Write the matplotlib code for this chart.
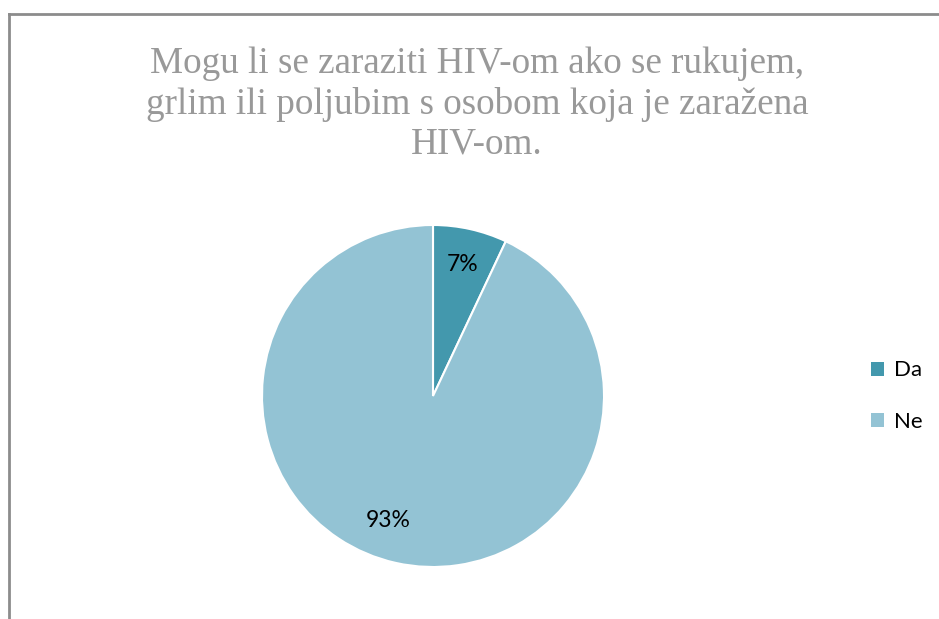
import matplotlib
matplotlib.use("Agg")
import matplotlib.pyplot as plt
from matplotlib.lines import Line2D
from matplotlib.patches import Patch

categories = ["Da", "Ne"]
values = [7, 93]
colors = ["#4398AD", "#93C3D4"]
title = "Mogu li se zaraziti HIV-om ako se rukujem,\ngrlim ili poljubim s osobom koja je zaražena\nHIV-om."

W, H = 939, 619
fig = plt.figure(figsize=(W / 100, H / 100), dpi=100)

# partial border (top and left)
fig.add_artist(Line2D([9 / W, 9 / W], [0, 1 - 14 / H], color="#8c8c8c", lw=2, transform=fig.transFigure))
fig.add_artist(Line2D([9 / W, 1], [1 - 14 / H, 1 - 14 / H], color="#8c8c8c", lw=2, transform=fig.transFigure))

cx, cy, r = 433, 396, 171
ax = fig.add_axes([(cx - r) / W, (H - cy - r) / H, 2 * r / W, 2 * r / H])
wedges, texts, autotexts = ax.pie(
    values, colors=colors, startangle=90, counterclock=False,
    autopct="%d%%", pctdistance=0.79,
    wedgeprops=dict(edgecolor="white", linewidth=1.5),
    textprops=dict(fontsize=16.5, family="Lato", color="black"),
)
autotexts[1].set_position((-0.26, -0.73))
ax.set_xlim(-1.0, 1.0)
ax.set_ylim(-1.0, 1.0)
ax.set_aspect("equal")

fig.text(477 / W, 1 - 104 / H, title, ha="center", va="center", fontsize=26.7,
         family="Liberation Serif", color="#999999", linespacing=1.22)

handles = [Patch(facecolor=c, edgecolor="none") for c in colors]
fig.legend(handles, categories, loc="center left", bbox_to_anchor=(851 / W, 1 - 396 / H),
           frameon=False, prop=dict(family="Lato", size=16), handlelength=0.6,
           handleheight=0.6, handletextpad=0.45, labelspacing=1.4)

fig.savefig("out.png", dpi=100)
